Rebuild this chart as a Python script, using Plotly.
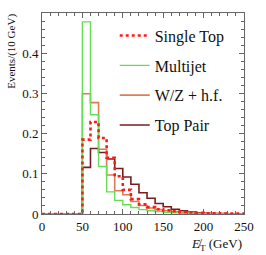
import plotly.graph_objects as go

bin_edges = list(range(0, 260, 10))  # 0..250

single_top = [0, 0, 0, 0, 0, 0.185, 0.229, 0.189, 0.140, 0.094, 0.060, 0.037, 0.024, 0.017, 0.012,
              0.009, 0.007, 0.005, 0.004, 0.003, 0.002, 0.002, 0.001, 0.001, 0.001]
multijet = [0, 0, 0, 0, 0, 0.478, 0.247, 0.118, 0.055, 0.034, 0.023, 0.016, 0.011, 0.008, 0.006,
            0.004, 0.003, 0.002, 0.002, 0.001, 0.001, 0.001, 0.0, 0.0, 0.0]
wz_hf = [0, 0, 0, 0, 0, 0.299, 0.277, 0.161, 0.097, 0.058, 0.048, 0.031, 0.021, 0.015, 0.011,
         0.008, 0.006, 0.004, 0.003, 0.002, 0.002, 0.001, 0.001, 0.0, 0.0]
top_pair = [0, 0, 0, 0, 0, 0.116, 0.163, 0.153, 0.137, 0.113, 0.092, 0.074, 0.053, 0.039, 0.026,
            0.018, 0.012, 0.008, 0.005, 0.003, 0.002, 0.001, 0.001, 0.0, 0.0]

names = ["Single Top", "Multijet", "W/Z + h.f.", "Top Pair"]
x_ticks = [0, 50, 100, 150, 200, 250]
y_ticks = [0, 0.1, 0.2, 0.3, 0.4]
y_tick_labels = ["0", "0.1", "0.2", "0.3", "0.4"]

def step(vals):
    return bin_edges, list(vals) + [vals[-1]]

fig = go.Figure()
series = [
    (top_pair, names[3], 4, dict(color="#7b1c1c", width=1.6)),
    (wz_hf, names[2], 3, dict(color="#e07b55", width=1.6)),
    (multijet, names[1], 2, dict(color="#66dd55", width=1.4)),
    (single_top, names[0], 1, dict(color="#ff1a1a", width=2.6, dash="dot")),
]
for vals, nm, rank, ln in series:
    xs, ys = step(vals)
    fig.add_trace(go.Scatter(x=xs, y=ys, mode="lines", line=dict(shape="hv", **ln),
                             name=nm, legendgroup=nm, legendrank=rank))

serif = "Liberation Serif, Times New Roman, serif"
axis_common = dict(showline=True, linecolor="#666", linewidth=1, mirror="allticks",
                   ticks="inside", ticklen=5, tickcolor="#666", showgrid=False, zeroline=False,
                   tickfont=dict(family=serif, size=13, color="#111"))
fig.update_xaxes(range=[0, 250], tickvals=x_ticks,
                 minor=dict(ticks="inside", ticklen=3, dtick=10, tick0=0, tickcolor="#666"),
                 **axis_common)
fig.update_yaxes(range=[0, 0.5], tickvals=y_ticks, ticktext=y_tick_labels,
                 minor=dict(ticks="inside", ticklen=3, dtick=0.02, tick0=0, tickcolor="#666"),
                 **axis_common)

fig.add_annotation(text="Events/(10 GeV)", textangle=-90, xref="paper", yref="paper",
                   x=-0.152, y=1.005, xanchor="center", yanchor="top", showarrow=False,
                   font=dict(family=serif, size=11, color="#111"))
fig.add_annotation(text="<i>E\u0338</i><sub>T</sub> (GeV)", xref="paper", yref="paper",
                   x=1.0, y=-0.15, xanchor="right", yanchor="middle", showarrow=False,
                   font=dict(family=serif, size=13, color="#111"))

fig.update_layout(
    width=266, height=255,
    margin=dict(l=42, r=14, t=13, b=41),
    plot_bgcolor="white", paper_bgcolor="white",
    legend=dict(x=0.36, y=0.972, xanchor="left", yanchor="top", traceorder="grouped",
                tracegroupgap=6, bgcolor="rgba(0,0,0,0)",
                font=dict(family=serif, size=16, color="#111")),
)
# remove the browser's default 8px body margin so the figure sits at the window's corner
fig.write_html("out.html", config={"displayModeBar": False},
               post_script="document.body.style.margin='0px';")
